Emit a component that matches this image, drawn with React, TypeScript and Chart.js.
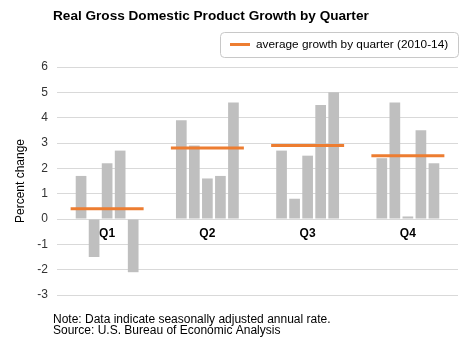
import React, { useEffect, useRef } from 'react';
import { Chart, registerables } from 'chart.js';

Chart.register(...registerables);

const categories = ['Q1', 'Q2', 'Q3', 'Q4'];
const years = ['2010', '2011', '2012', '2013', '2014'];
const growth2010 = [1.7, 3.9, 2.7, 2.4];
const growth2011 = [-1.5, 2.9, 0.8, 4.6];
const growth2012 = [2.2, 1.6, 2.5, 0.1];
const growth2013 = [2.7, 1.7, 4.5, 3.5];
const growth2014 = [-2.1, 4.6, 5.0, 2.2];
const averageGrowth = [0.4, 2.8, 2.9, 2.5];
const yTickMin = -3;
const yTickMax = 6;

const titleText = 'Real Gross Domestic Product Growth by Quarter';
const legendText = 'average growth by quarter (2010-14)';
const yAxisTitle = 'Percent change';
const noteLines = [
  'Note: Data indicate seasonally adjusted annual rate.',
  'Source: U.S. Bureau of Economic Analysis',
];

const FONT = '"Liberation Sans", Arial, sans-serif';
const ORANGE = '#ED7D31';
const BAR = '#BFBFBF';

const decorPlugin = {
  id: 'decor',
  afterDraw(chart: any) {
    const ctx = chart.ctx as CanvasRenderingContext2D;
    ctx.save();
    // title
    ctx.fillStyle = '#000';
    ctx.textAlign = 'left';
    ctx.textBaseline = 'alphabetic';
    ctx.font = `bold 13.6px ${FONT}`;
    ctx.fillText(titleText, 53, 19.5);
    // legend box
    ctx.beginPath();
    (ctx as any).roundRect(220.5, 32.5, 238, 25, 4);
    ctx.strokeStyle = '#C8C8C8';
    ctx.lineWidth = 1;
    ctx.stroke();
    ctx.beginPath();
    ctx.moveTo(230, 44.5);
    ctx.lineTo(250, 44.5);
    ctx.strokeStyle = ORANGE;
    ctx.lineWidth = 3;
    ctx.stroke();
    ctx.fillStyle = '#000';
    ctx.textBaseline = 'middle';
    ctx.font = `11.8px ${FONT}`;
    ctx.fillText(legendText, 256, 45);
    // notes
    ctx.textBaseline = 'alphabetic';
    ctx.font = `12px ${FONT}`;
    ctx.fillText(noteLines[0], 53, 322.5);
    ctx.fillText(noteLines[1], 53, 334);
    ctx.restore();
  },
};

export default function App() {
  const ref = useRef<HTMLCanvasElement | null>(null);

  useEffect(() => {
    if (!ref.current) return;
    const series = [growth2010, growth2011, growth2012, growth2013, growth2014];
    const barSets = series.map((d, i) => ({
      type: 'bar' as const,
      label: years[i],
      data: d,
      backgroundColor: BAR,
      borderWidth: 0,
      categoryPercentage: 0.65,
      barPercentage: 0.82,
      order: 1,
    }));
    const chart = new Chart(ref.current, {
      type: 'bar',
      data: {
        labels: categories,
        datasets: [
          ...barSets,
          {
            type: 'line' as const,
            label: legendText,
            data: averageGrowth,
            showLine: false,
            pointStyle: 'line',
            pointRadius: 36.5,
            pointHoverRadius: 36.5,
            pointBorderColor: ORANGE,
            pointBackgroundColor: ORANGE,
            pointBorderWidth: 3,
            borderColor: ORANGE,
            clip: false,
            order: 0,
          } as any,
        ],
      },
      options: {
        responsive: false,
        animation: false,
        layout: { autoPadding: false, padding: { top: 67, right: 15, bottom: 48, left: 0 } },
        plugins: {
          legend: { display: false },
          title: { display: false },
          tooltip: { enabled: false },
        },
        scales: {
          x: {
            position: { y: 0 } as any,
            grid: { display: false, drawTicks: false },
            border: { display: false },
            ticks: {
              color: '#000',
              padding: 7,
              font: { family: FONT, size: 12, weight: 'bold' },
            },
          },
          y: {
            min: yTickMin,
            max: yTickMax,
            ticks: {
              stepSize: 1,
              color: '#333',
              padding: 9,
              font: { family: FONT, size: 12 },
            },
            grid: { color: '#D9D9D9', lineWidth: 1, drawTicks: false },
            border: { display: false },
            title: {
              display: true,
              text: yAxisTitle,
              color: '#000',
              padding: { top: 13, bottom: 0 },
              font: { family: FONT, size: 12 },
            },
            afterFit: (scale: any) => {
              scale.width = 57;
            },
          },
        },
      },
      plugins: [decorPlugin],
    });
    return () => chart.destroy();
  }, []);

  return (
    <div style={{ position: 'fixed', left: 0, top: 0, width: 473, height: 343, background: '#fff' }}>
      <canvas ref={ref} width={473} height={343} style={{ display: 'block' }} />
    </div>
  );
}
